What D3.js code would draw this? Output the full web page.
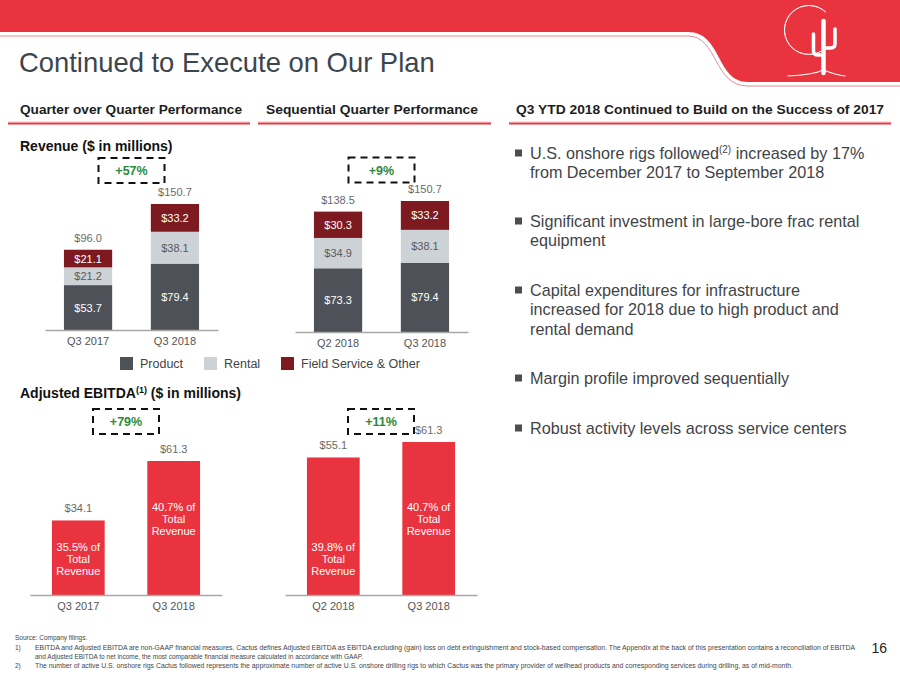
<!DOCTYPE html>
<html><head><meta charset="utf-8">
<script src="https://cdn.jsdelivr.net/npm/d3@7"></script>
<style>
html,body{margin:0;padding:0;background:#fff;}
svg{display:block;font-family:"Liberation Sans",Arial,sans-serif;}
</style></head>
<body><svg id="c" width="900" height="675"></svg>
<script>
// ---------- DATA ----------
const qoqCategories = ["Q3 2017", "Q3 2018"];
const seqCategories = ["Q2 2018", "Q3 2018"];
const seriesKeys = ["product", "rental", "field"];
const seriesNames = ["Product", "Rental", "Field Service & Other"];
const qoqProduct = [53.7, 79.4];
const qoqRental = [21.2, 38.1];
const qoqField = [21.1, 33.2];
const qoqTotal = [96.0, 150.7];
const seqProduct = [73.3, 79.4];
const seqRental = [34.9, 38.1];
const seqField = [30.3, 33.2];
const seqTotal = [138.5, 150.7];
const qoqEbitda = [34.1, 61.3];
const seqEbitda = [55.1, 61.3];
const qoqMargin = ["35.5%", "40.7%"];
const seqMargin = ["39.8%", "40.7%"];
const growthLabels = {revQoq: "+57%", revSeq: "+9%", ebQoq: "+79%", ebSeq: "+11%"};
const bullets = [
  ["U.S. onshore rigs followed|(2)| increased by 17%", "from December 2017 to September 2018"],
  ["Significant investment in large-bore frac rental", "equipment"],
  ["Capital expenditures for infrastructure", "increased for 2018 due to high product and", "rental demand"],
  ["Margin profile improved sequentially"],
  ["Robust activity levels across service centers"]
];
const footnotes = [
  ["", "Source: Company filings."],
  ["1)", "EBITDA and Adjusted EBITDA are non-GAAP financial measures. Cactus defines Adjusted EBITDA as EBITDA excluding (gain) loss on debt extinguishment and stock-based compensation. The Appendix at the back of this presentation contains a reconciliation of EBITDA"],
  ["", "and Adjusted EBITDA to net income, the most comparable financial measure calculated in accordance with GAAP."],
  ["2)", "The number of active U.S. onshore rigs Cactus followed represents the approximate number of active U.S. onshore drilling rigs to which Cactus was the primary provider of wellhead products and corresponding services during drilling, as of mid-month."]
];

// ---------- STYLE ----------
const RED = "#e9343f";
const colors = {product: "#4e5258", rental: "#cdd2d6", field: "#7c1a1f"};
const TXT = "#3f4448";
const GRAY = "#6a6a6a";
const GREEN = "#2c8a3c";

const svg = d3.select("#c");

// ---------- HEADER ----------
svg.append("path")
  .attr("d", "M0,0 H900 V82 H748 C716,82 722,32 688,32 H0 Z")
  .attr("fill", RED);
svg.append("path")
  .attr("d", "M0,36 H688 C718,36 713,86 748,86 H900")
  .attr("fill", "none").attr("stroke", "#e58c92").attr("stroke-width", 1);
// logo
const logo = svg.append("g").attr("fill", "none").attr("stroke", "#fff").attr("stroke-linecap", "round");
logo.append("path").attr("d", d3.arc()({innerRadius: 24.5, outerRadius: 24.5, startAngle: 2.6, endAngle: 2 * Math.PI + 0.75}))
  .attr("transform", "translate(809,30)").attr("stroke-width", 0.8);
logo.append("path").attr("d", "M823.5,73 V21").attr("stroke-width", 4.5);
logo.append("path").attr("d", "M813.5,34 V51 Q813.5,55 818,55 H823").attr("stroke-width", 3.5);
logo.append("path").attr("d", "M835,29 V44 Q835,48 830,48 H824").attr("stroke-width", 3.5);
logo.append("path").attr("d", "M788,76 Q812,75 823.5,70 Q836,75 845,76").attr("stroke-width", 1.2);

// title
svg.append("text").attr("x", 19).attr("y", 72).attr("font-size", 27.4).attr("fill", "#3d454c")
  .text("Continued to Execute on Our Plan");

// section headers
const sections = [
  {t: "Quarter over Quarter Performance", x: 20, w: 222, l0: 8, l1: 250},
  {t: "Sequential Quarter Performance", x: 266, w: 212, l0: 258, l1: 491},
  {t: "Q3 YTD 2018 Continued to Build on the Success of 2017", x: 516, w: 368, l0: 509, l1: 891}
];
sections.forEach(s => {
  svg.append("text").attr("x", s.x).attr("y", 114).attr("font-size", 13.5).attr("font-weight", "bold")
    .attr("fill", "#1e1e1e").attr("textLength", s.w).attr("lengthAdjust", "spacingAndGlyphs").text(s.t);
  svg.append("line").attr("x1", s.l0).attr("x2", s.l1).attr("y1", 121.5).attr("y2", 121.5)
    .attr("stroke", "#e6e6e6").attr("stroke-width", 1);
  svg.append("line").attr("x1", s.l0).attr("x2", s.l1).attr("y1", 123.5).attr("y2", 123.5)
    .attr("stroke", RED).attr("stroke-width", 2);
});

// chart titles
svg.append("text").attr("x", 20).attr("y", 151).attr("font-size", 14).attr("font-weight", "bold").attr("fill", "#111")
  .text("Revenue ($ in millions)");
const ebt = svg.append("text").attr("x", 20).attr("y", 398).attr("font-size", 14).attr("font-weight", "bold").attr("fill", "#111");
ebt.append("tspan").text("Adjusted EBITDA");
ebt.append("tspan").attr("font-size", 9).attr("dy", -5).text("(1)");
ebt.append("tspan").attr("dy", 5).text(" ($ in millions)");

// ---------- helpers ----------
function drawAxis(g, x, baseline) {
  const ax = g.append("g").attr("transform", `translate(0,${baseline})`)
    .call(d3.axisBottom(x).tickSize(0).tickSizeOuter(0).tickPadding(7));
  ax.select(".domain").attr("stroke", "#a8a8a8").attr("stroke-width", 1.5);
  ax.selectAll("text").attr("font-size", 11).attr("fill", "#555").attr("font-family", "Liberation Sans, Arial, sans-serif");
}
function growthBox(g, cx, top, label) {
  g.append("rect").attr("x", cx - 33).attr("y", top).attr("width", 66).attr("height", 25)
    .attr("fill", "none").attr("stroke", "#111").attr("stroke-width", 2).attr("stroke-dasharray", "7,5");
  g.append("text").attr("x", cx).attr("y", top + 17).attr("text-anchor", "middle").attr("font-size", 12.5)
    .attr("font-weight", "bold").attr("fill", GREEN).text(label);
}

function stackedChart(cats, prod, rent, fld, totals, range, base, topY, boxTop, growth) {
  const g = svg.append("g");
  const rows = cats.map((c, i) => ({cat: c, product: prod[i], rental: rent[i], field: fld[i], total: totals[i]}));
  const x = d3.scaleBand().domain(cats).range(range).paddingInner(0.445).paddingOuter(0.218);
  const y = d3.scaleLinear().domain([0, d3.max(totals)]).range([base, topY]);
  const stack = d3.stack().keys(seriesKeys)(rows);
  stack.forEach(layer => {
    const key = layer.key;
    const lg = g.append("g");
    lg.selectAll("rect").data(layer).join("rect")
      .attr("x", d => x(d.data.cat)).attr("width", x.bandwidth())
      .attr("y", d => y(d[1])).attr("height", d => y(d[0]) - y(d[1]))
      .attr("fill", colors[key]);
    lg.selectAll("text").data(layer).join("text")
      .attr("x", d => x(d.data.cat) + x.bandwidth() / 2)
      .attr("y", d => (y(d[0]) + y(d[1])) / 2 + 4)
      .attr("text-anchor", "middle").attr("font-size", 11)
      .attr("fill", key === "rental" ? "#5a5a5a" : "#fff")
      .text(d => "$" + d.data[key].toFixed(1));
  });
  g.selectAll(".tot").data(rows).join("text").attr("class", "tot")
    .attr("x", d => x(d.cat) + x.bandwidth() / 2).attr("y", d => y(d.total) - 8)
    .attr("text-anchor", "middle").attr("font-size", 11).attr("fill", GRAY)
    .text(d => "$" + d.total.toFixed(1));
  drawAxis(g, x, base);
  const cx = (x(cats[0]) + x(cats[1]) + x.bandwidth()) / 2;
  growthBox(g, cx, boxTop, growth);
}

function ebitdaChart(cats, vals, margins, range, base, topY, boxTop, growth) {
  const g = svg.append("g");
  const rows = cats.map((c, i) => ({cat: c, v: vals[i], m: margins[i], i}));
  const x = d3.scaleBand().domain(cats).range(range).paddingInner(0.447).paddingOuter(0.23);
  const y = d3.scaleLinear().domain([0, d3.max(vals)]).range([base, topY]);
  g.selectAll("rect").data(rows).join("rect")
    .attr("x", d => x(d.cat)).attr("width", x.bandwidth())
    .attr("y", d => y(d.v)).attr("height", d => base - y(d.v)).attr("fill", RED);
  g.selectAll(".val").data(rows).join("text").attr("class", "val")
    .attr("x", d => x(d.cat) + x.bandwidth() / 2).attr("y", d => y(d.v) - 8)
    .attr("text-anchor", "middle").attr("font-size", 11).attr("fill", GRAY)
    .text(d => "$" + d.v.toFixed(1));
  rows.forEach(d => {
    const cy = base - (d.i === 0 ? 36 : 76);
    const lines = [d.m + " of", "Total", "Revenue"];
    lines.forEach((t, k) => {
      g.append("text").attr("x", x(d.cat) + x.bandwidth() / 2).attr("y", cy + (k - 1) * 11.7 + 4)
        .attr("text-anchor", "middle").attr("font-size", 11).attr("fill", "#fff").text(t);
    });
  });
  drawAxis(g, x, base);
  const cx = (x(cats[0]) + x(cats[1]) + x.bandwidth()) / 2;
  growthBox(g, cx, boxTop, growth);
}

stackedChart(qoqCategories, qoqProduct, qoqRental, qoqField, qoqTotal, [45, 218], 330, 204, 158, growthLabels.revQoq);
stackedChart(seqCategories, seqProduct, seqRental, seqField, seqTotal, [295, 468], 332, 201, 157.5, growthLabels.revSeq);
ebitdaChart(qoqCategories, qoqEbitda, qoqMargin, [30, 222], 595, 461, 409, growthLabels.ebQoq);
ebitdaChart(seqCategories, seqEbitda, seqMargin, [285, 477], 595, 442, 409, growthLabels.ebSeq);

// legend
const legX = [120, 204, 281];
const leg = svg.append("g");
seriesKeys.forEach((k, i) => {
  leg.append("rect").attr("x", legX[i]).attr("y", 357).attr("width", 13).attr("height", 13).attr("fill", colors[k]);
  leg.append("text").attr("x", legX[i] + 20).attr("y", 368).attr("font-size", 12.5).attr("fill", "#444").text(seriesNames[i]);
});

// bullets
const bulletTop = [153, 221, 290, 378, 428];
bullets.forEach((lines, bi) => {
  svg.append("rect").attr("x", 515).attr("y", bulletTop[bi] - 3.5).attr("width", 7).attr("height", 7).attr("fill", "#4a4e53");
  lines.forEach((ln, li) => {
    const t = svg.append("text").attr("x", 530).attr("y", bulletTop[bi] + li * 19.5 + 5.5)
      .attr("font-size", 16.2).attr("fill", TXT);
    const parts = ln.split("|");
    if (parts.length === 3) {
      t.append("tspan").text(parts[0]);
      t.append("tspan").attr("font-size", 10).attr("dy", -6).text(parts[1]);
      t.append("tspan").attr("dy", 6).text(parts[2]);
    } else t.text(ln);
  });
});

// footnotes
const fnY = [640, 649.5, 658.5, 668];
const fnW = [null, 820, null, 758];
footnotes.forEach((f, i) => {
  if (f[0]) svg.append("text").attr("x", 15).attr("y", fnY[i]).attr("font-size", 6.5).attr("fill", "#444").text(f[0]);
  const t = svg.append("text").attr("x", f[0] || i === 2 ? 35 : 15).attr("y", fnY[i]).attr("font-size", 6.5).attr("fill", "#444").text(f[1]);
  if (fnW[i]) t.attr("textLength", fnW[i]).attr("lengthAdjust", "spacingAndGlyphs");
});
svg.append("text").attr("x", 887).attr("y", 653).attr("text-anchor", "end").attr("font-size", 14).attr("fill", "#222").text("16");
</script></body></html>
